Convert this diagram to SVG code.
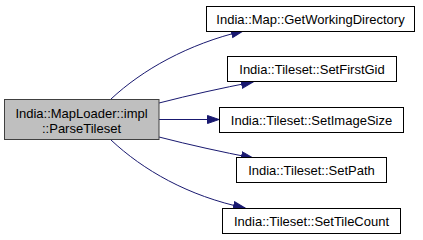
<svg xmlns="http://www.w3.org/2000/svg" width="423" height="240" viewBox="0 0 423 240">
  <style>
    .node rect { fill: #ffffff; stroke: #000000; stroke-width: 1; }
    .node.current rect { fill: #bfbfbf; stroke: #404040; }
    .node text { font-family: "Liberation Sans", Arial, sans-serif; font-size: 13px; fill: #000000; text-anchor: middle; }
    .edge { fill: none; stroke: #191970; stroke-width: 1; marker-end: url(#arrow); }
  </style>
  <defs>
    <marker id="arrow" markerUnits="userSpaceOnUse" markerWidth="13" markerHeight="10" refX="12" refY="4.5" orient="auto">
      <path d="M0.5,0.5 L12,4.5 L0.5,8.5 z" fill="#191970" stroke="#191970" stroke-width="1"/>
    </marker>
  </defs>

  <rect width="423" height="240" fill="#ffffff"/>

  <!-- call edges from ParseTileset to its callees -->
  <g id="edges">
    <path class="edge" d="M111,99 C142,70 188,44 243,31"/>
    <path class="edge" d="M159,103 C190,95 222,88 253,82"/>
    <path class="edge" d="M159,119.5 L219,119.5"/>
    <path class="edge" d="M159,137 C190,145 222,152 253,158"/>
    <path class="edge" d="M111,140 C143,170 188,196 245,208"/>
  </g>

  <g id="node-parsetileset" class="node current">
    <rect x="4.5" y="99.5" width="154.5" height="40"/>
    <text x="81.5" y="117.5">India::MapLoader::impl</text>
    <text x="81.5" y="132.5">::ParseTileset</text>
  </g>

  <g id="node-getworkingdirectory" class="node">
    <rect x="206.5" y="6.5" width="208" height="25"/>
    <text x="310.5" y="23.5">India::Map::GetWorkingDirectory</text>
  </g>

  <g id="node-setfirstgid" class="node">
    <rect x="227.5" y="56.5" width="169" height="25"/>
    <text x="312" y="73.5">India::Tileset::SetFirstGid</text>
  </g>

  <g id="node-setimagesize" class="node">
    <rect x="219.5" y="107.5" width="184" height="25"/>
    <text x="311.5" y="124.5">India::Tileset::SetImageSize</text>
  </g>

  <g id="node-setpath" class="node">
    <rect x="236.5" y="157.5" width="150" height="25"/>
    <text x="311.5" y="174.5">India::Tileset::SetPath</text>
  </g>

  <g id="node-settilecount" class="node">
    <rect x="222.5" y="208.5" width="178" height="25"/>
    <text x="311.5" y="225.5">India::Tileset::SetTileCount</text>
  </g>
</svg>
